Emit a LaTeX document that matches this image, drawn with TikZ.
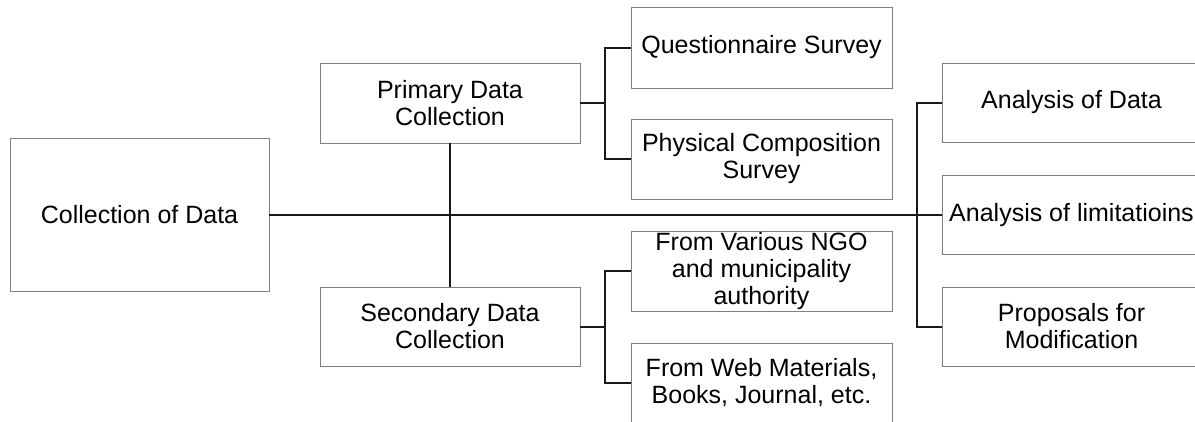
\documentclass[tikz,border=0pt]{standalone}
\usepackage{fontspec}
\setmainfont{Liberation Sans}
\begin{document}
\begin{tikzpicture}[x=1pt,y=-1pt,
  box/.style={draw=black!50, line width=0.9pt, fill=white, inner sep=0pt, align=center,
    font=\fontsize{25}{27}\selectfont, text=black},
  link/.style={draw=black!90, line width=2pt},
  mainlink/.style={draw=black!90, line width=2.6pt}]
\useasboundingbox (0,0) rectangle (1195,421);
\clip (0,0) rectangle (1195,421);
\node[box, minimum width=259pt, minimum height=153pt] (cod) at (139.5,215) {Collection of Data};
\node[box, minimum width=260pt, minimum height=80pt] (prim) at (450,103) {Primary Data\\Collection};
\node[box, minimum width=260pt, minimum height=79pt] (sec) at (450,326.5) {Secondary Data\\Collection};
\node[box, minimum width=261pt, minimum height=81pt] (q) at (761.5,47.5) {Questionnaire Survey};
\node[box, minimum width=261pt, minimum height=80pt] (p) at (761.5,159) {Physical Composition\\Survey};
\node[box, minimum width=261pt, minimum height=80pt] (ngo) at (761.5,271) {From Various NGO\\and municipality\\authority};
\node[box, minimum width=261pt, minimum height=80pt] (web) at (761.5,383) {From Web Materials,\\Books, Journal, etc.};
\node[box, minimum width=259pt, minimum height=79pt] (aod) at (1071.5,102.5) {Analysis of Data};
\node[box, minimum width=259pt, minimum height=79pt] (lim) at (1071.5,215) {Analysis of limitatioins};
\node[box, minimum width=259pt, minimum height=79pt] (prop) at (1071.5,326.5) {Proposals for\\Modification};
% brackets
\coordinate (b1) at (605,103);
\coordinate (b2) at (605,326.5);
\coordinate (b3) at (917,215);
\draw[mainlink] (cod.east) -- (lim.west);
\draw[link] (prim.south) -- (sec.north);
\draw[link] (prim.east) -- (b1);
\draw[link] (q.west) -| (b1) |- (p.west);
\draw[link] (sec.east) -- (b2);
\draw[link] (ngo.west) -| (b2) |- (web.west);
\draw[link] (aod.west) -| (b3) |- (prop.west);
\end{tikzpicture}
\end{document}
